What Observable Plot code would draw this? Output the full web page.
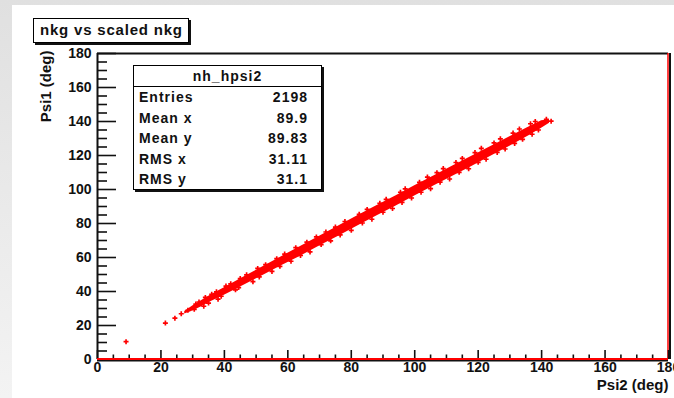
<!DOCTYPE html>
<html><head><meta charset="utf-8">
<script src="https://cdn.jsdelivr.net/npm/d3@7"></script>
<script src="https://cdn.jsdelivr.net/npm/@observablehq/plot@0.6"></script>
<style>
html,body{margin:0;padding:0;}
body{width:674px;height:398px;overflow:hidden;position:relative;background:linear-gradient(to bottom,#e0e0e0,#f3f3f3);font-family:"Liberation Sans",Arial,sans-serif;}
#canvas{position:absolute;left:12px;top:5px;width:662px;height:393px;background:#fff;}
#canvas svg{display:block;}
#title{position:absolute;left:33px;top:18px;width:156px;height:25px;box-sizing:border-box;border:1px solid #000;box-shadow:2px 2px 0 #111;background:#fff;font-weight:bold;font-size:15px;letter-spacing:0.8px;line-height:22px;padding-left:6px;color:#111;white-space:nowrap;}
#stats{position:absolute;left:133px;top:65px;width:189px;height:125px;box-sizing:border-box;border:1px solid #000;box-shadow:2px 2px 0 #111;background:#fff;font-weight:bold;font-size:14px;letter-spacing:1px;color:#111;}
#stats .hd{height:20px;line-height:20px;text-align:center;border-bottom:1px solid #000;}
#stats .row{height:20.5px;line-height:20.5px;display:flex;justify-content:space-between;padding:0 13px 0 5px;}
</style>
</head><body>
<div id="canvas"></div>
<div id="title"></div>
<div id="stats"></div>
<script>
// ---- data ----
const titleText = "nkg vs scaled nkg";
const xTitle = "Psi2 (deg)";
const yTitle = "Psi1 (deg)";
const statsName = "nh_hpsi2";
const statsLabels = ["Entries", "Mean x", "Mean y", "RMS x", "RMS y"];
const statsValues = ["2198", "89.9", "89.83", "31.11", "31.1"];
const xMajor = [0, 20, 40, 60, 80, 100, 120, 140, 160, 180];
const yMajor = [0, 20, 40, 60, 80, 100, 120, 140, 160, 180];
const minorTicks = [5,10,15,25,30,35,45,50,55,65,70,75,85,90,95,105,110,115,125,130,135,145,150,155,165,170,175];

// dense band of the scatter (lower / upper edge of the red cloud)
const bandX  = [27.5, 30, 33, 36, 40, 46, 52, 58, 64, 70, 76, 82, 88, 94, 100, 106, 112, 118, 124, 130, 136, 140, 142.5];
const bandLo = [26.8, 28.6, 31.2, 34.3, 37.8, 43.6, 49.2, 55.1, 60.8, 66.7, 72.5, 78.5, 84.4, 90.2, 96.2, 102.0, 107.8, 113.6, 119.5, 125.5, 131.6, 136.1, 139.0];
const bandHi = [28.2, 31.4, 34.8, 38.3, 42.2, 48.4, 54.4, 60.5, 66.4, 72.5, 78.5, 84.5, 90.4, 96.2, 102.2, 108.0, 113.8, 119.6, 125.3, 131.1, 136.8, 140.5, 141.0];

// individual entries: sparse tail and ragged edges of the cloud
const ptX = [9, 21.4, 24.4, 26.4, 28.5, 30.5, 32, 34, 35, 37.5, 39, 42, 43.5, 47, 49, 53, 55, 59, 61, 66, 67, 72, 73.5, 78, 80, 85, 86.5, 91, 93, 97, 99, 104, 105, 109, 111, 115, 117, 121, 122.5, 127, 128.5, 133, 134, 138, 139, 141.5, 143,
             31, 36, 40.5, 45, 50.5, 56.5, 62.5, 69, 75, 82.5, 89, 95.5, 101.5, 107, 113, 119, 125, 131, 136.5,
             33.5, 38, 44.5, 51, 57.5, 64, 70.5, 76.5, 83.5, 90, 96, 102, 108, 114, 120, 126, 131.5, 137];
const ptY = [10.5, 21.4, 24.3, 26.9, 28.9, 29.5, 33.8, 36.5, 33.2, 39.8, 37.2, 44.5, 41, 49.8, 45.8, 55.8, 51.8, 62, 57.8, 69, 63.3, 75, 69.8, 81.2, 76, 88.3, 82.5, 94.2, 88.8, 100.4, 95, 107.3, 100.5, 112.3, 106.2, 118.3, 112.2, 124.2, 117.8, 129.8, 123.8, 135.6, 129.5, 140, 135, 141.3, 140.2,
             32.6, 38.4, 43.2, 47.6, 53.6, 59.3, 65.8, 72.1, 77.9, 85.4, 91.9, 98.4, 104.2, 109.9, 115.9, 121.7, 127.4, 133.2, 138.7,
             31.3, 35.5, 42.3, 48.6, 54.8, 61.2, 67.6, 73.3, 80.3, 86.6, 92.4, 98.4, 104.3, 110.1, 116.0, 121.8, 127.1, 132.5];

// ---- build ----
const band = bandX.map((x, i) => ({x, lo: bandLo[i], hi: bandHi[i]}));
const pts = ptX.map((x, i) => ({x, y: ptY[i]}));

document.getElementById("title").textContent = titleText;
const st = document.getElementById("stats");
const hd = document.createElement("div"); hd.className = "hd"; hd.textContent = statsName; st.appendChild(hd);
statsLabels.forEach((l, i) => {
  const r = document.createElement("div"); r.className = "row";
  const a = document.createElement("span"); a.textContent = l;
  const b = document.createElement("span"); b.textContent = statsValues[i];
  r.appendChild(a); r.appendChild(b); st.appendChild(r);
});

const font = {fontSize: 14, fontWeight: "bold"};
const chart = Plot.plot({
  width: 662, height: 393,
  marginLeft: 85, marginRight: 6, marginTop: 48, marginBottom: 39,
  style: {fontFamily: "Liberation Sans, Arial, sans-serif", fontSize: "14px", fontWeight: "bold", color: "#111", background: "#fff", overflow: "hidden"},
  x: {domain: [0, 180]},
  y: {domain: [0, 180]},
  marks: [
    Plot.areaY(band, {x: "x", y1: "lo", y2: "hi", fill: "red"}),
    Plot.dot(pts, {x: "x", y: "y", symbol: "cross", r: 2.1, fill: "red", stroke: "none"}),
    // frame
    Plot.ruleY([180], {stroke: "#111", strokeWidth: 2}),
    Plot.ruleX([180], {stroke: "#111", strokeWidth: 2, dx: 1.5}),
    Plot.ruleX([180], {stroke: "red", strokeWidth: 1.5, dx: -0.5}),
    Plot.ruleX([0], {stroke: "#111", strokeWidth: 2}),
    // axes ticks (inward)
    Plot.axisY(yMajor, {anchor: "left", tickSize: -19, strokeWidth: 1.6, stroke: "#111", fill: "none", label: null}),
    Plot.axisY(minorTicks, {anchor: "left", tickSize: -10, strokeWidth: 1.6, stroke: "#111", fill: "none", label: null}),
    Plot.axisX(xMajor, {anchor: "bottom", tickSize: -9, strokeWidth: 1.6, stroke: "#111", fill: "none", label: null}),
    Plot.axisX(minorTicks, {anchor: "bottom", tickSize: -4.5, strokeWidth: 1.6, stroke: "#111", fill: "none", label: null}),
    Plot.ruleY([0], {stroke: "#111", strokeWidth: 3, dy: 0.5}),
    Plot.ruleY([0], {stroke: "red", strokeWidth: 2, dy: -0.5}),
    // tick labels
    Plot.axisY(yMajor, {anchor: "left", tickSize: 0, tickPadding: 6, label: null, fill: "#111", ...font}),
    Plot.axisX(xMajor, {anchor: "bottom", tickSize: 0, tickPadding: 3, label: null, fill: "#111", ...font}),
    // axis titles
    Plot.text([xTitle], {frameAnchor: "bottom-right", textAnchor: "end", dy: 30, fontSize: 15, fontWeight: "bold", fill: "#111"}),
    Plot.text([yTitle], {frameAnchor: "top-left", textAnchor: "end", rotate: -90, dx: -57, dy: -3, fontSize: 15, fontWeight: "bold", fill: "#111"})
  ]
});
document.getElementById("canvas").appendChild(chart);
</script>
</body></html>
